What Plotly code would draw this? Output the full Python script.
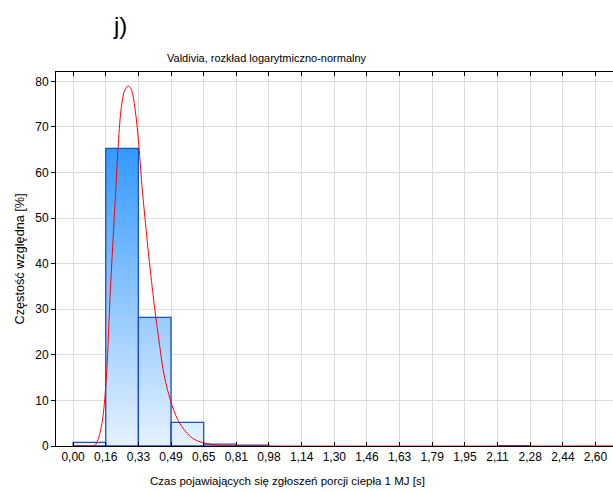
import plotly.graph_objects as go

# ---- data ----
bin_edges = [0.0, 0.1625, 0.325, 0.4875, 0.65, 0.8125, 0.975, 1.1375, 1.3, 1.4625,
             1.625, 1.7875, 1.95, 2.1125, 2.275, 2.4375, 2.6]
bin_values = [0.8, 65.3, 28.2, 5.2, 0.4, 0.2, 0.0, 0.0, 0.0, 0.0,
              0.0, 0.0, 0.0, 0.05, 0.0, 0.0]
tick_labels = ["0,00", "0,16", "0,33", "0,49", "0,65", "0,81", "0,98", "1,14", "1,30",
               "1,46", "1,63", "1,79", "1,95", "2,11", "2,28", "2,44", "2,60"]
curve_x = [0.0, 0.08, 0.11, 0.134, 0.151, 0.168, 0.184, 0.201, 0.211, 0.224, 0.238,
           0.255, 0.275, 0.291, 0.308, 0.325, 0.342, 0.360, 0.377, 0.390, 0.401,
           0.414, 0.431, 0.447, 0.466, 0.4875, 0.512, 0.536, 0.561, 0.593, 0.626,
           0.658, 0.70, 0.75, 0.85, 2.70]
curve_y = [0.0, 0.0, 0.2, 2.9, 7.3, 16.8, 32.8, 47.0, 55.0, 65.5, 73.5,
           77.8, 79.0, 78.1, 74.1, 67.2, 57.4, 49.0, 41.5, 36.3, 32.0,
           27.5, 22.0, 17.0, 13.0, 9.6, 6.6, 4.6, 3.1, 1.75, 1.0,
           0.6, 0.28, 0.1, 0.02, 0.0]
y_ticks = [0, 10, 20, 30, 40, 50, 60, 70, 80]

# build bar rectangles (polygon outlines) from the bin data
px, py = [], []
for i, v in enumerate(bin_values):
    if v <= 0:
        continue
    x0, x1 = bin_edges[i], bin_edges[i + 1]
    px += [x0, x0, x1, x1, x0, None]
    py += [0, v, v, 0, 0, None]

fig = go.Figure()
fig.add_trace(go.Scatter(
    x=px, y=py, mode="lines", fill="toself",
    line=dict(color="#1f4fc4", width=1.3),
    fillgradient=dict(type="vertical",
                      colorscale=[[0, "#e6f2ff"], [1, "#3399ff"]],
                      start=0, stop=max(bin_values)),
    hoverinfo="skip", showlegend=False,
))
fig.add_trace(go.Scatter(
    x=curve_x, y=curve_y, mode="lines",
    line=dict(color="#ff0000", width=1, shape="spline", smoothing=0.8),
    showlegend=False,
))

W, H = 613, 492
l, r, t, b = 56, 0, 71.5, 45.5

fig.update_layout(
    width=W, height=H,
    margin=dict(l=l, r=r, t=t, b=b, pad=0),
    paper_bgcolor="white", plot_bgcolor="white",
    font=dict(family="Liberation Sans, Arial, sans-serif", color="#000000", size=12),
    xaxis=dict(range=[-0.085, 2.687], tickvals=bin_edges, ticktext=tick_labels,
               showgrid=True, gridcolor="#dcdcdc", gridwidth=1,
               showline=True, linecolor="#000000", linewidth=1, mirror="ticks",
               ticks="inside", ticklen=4, tickcolor="#000000",
               tickfont=dict(size=12), zeroline=False, automargin=False),
    yaxis=dict(range=[0, 82.05], tickvals=y_ticks,
               showgrid=True, gridcolor="#dcdcdc", gridwidth=1,
               showline=True, linecolor="#000000", linewidth=1,
               ticks="outside", ticklen=4, tickcolor="#000000",
               tickfont=dict(size=12), zeroline=False, automargin=False),
)

pw, ph = W - l - r, H - t - b
def ann(text, xpix, ypix, size, angle=0):
    return dict(text=text, xref="paper", yref="paper",
                x=(xpix - l) / pw, y=(H - b - ypix) / ph,
                xanchor="center", yanchor="middle", showarrow=False,
                textangle=angle, font=dict(size=size))

fig.update_layout(annotations=[
    ann("j)", 120, 25, 24),
    ann("Valdivia, rozkład logarytmiczno-normalny", 267, 57, 11),
    ann("Czas pojawiających się zgłoszeń porcji ciepła 1 MJ [s]", 287, 482, 11.5),
    ann("Częstość względna [%]", 19.5, 259, 12.7, -90),
])

fig.write_html("out.html", config={"displayModeBar": False},
               post_script="document.body.style.margin='0';document.body.style.padding='0';")
